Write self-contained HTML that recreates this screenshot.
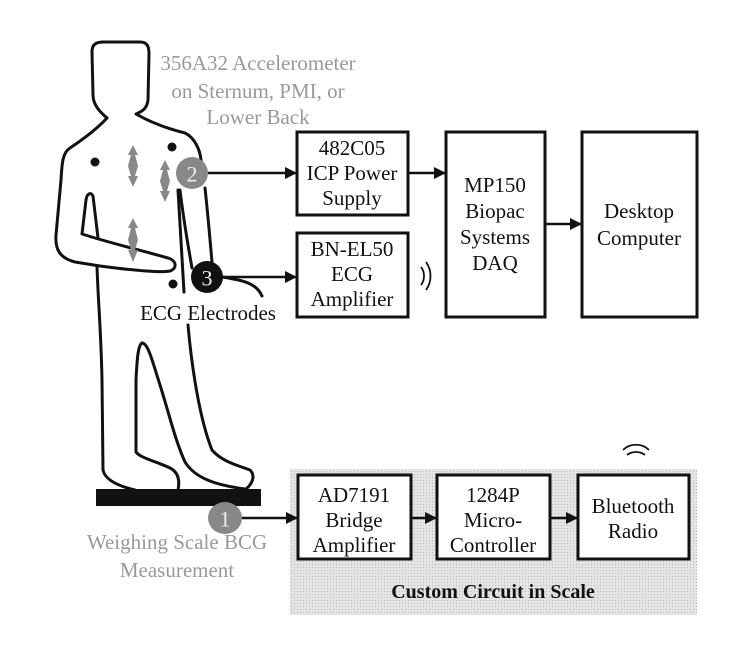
<!DOCTYPE html>
<html><head><meta charset="utf-8"><style>
html,body{margin:0;padding:0;background:#fff;}
svg{display:block;}
svg text{font-family:"Liberation Serif","Times New Roman","DejaVu Serif",serif;font-size:21px;text-anchor:middle;dominant-baseline:central;fill:#111;}
</style></head><body>
<svg width="747" height="652" viewBox="0 0 747 652" xmlns="http://www.w3.org/2000/svg" font-family="Liberation Serif, Times New Roman, DejaVu Serif, serif">
<defs>
<marker id="ah" markerWidth="12" markerHeight="12" refX="11" refY="6" orient="auto" markerUnits="userSpaceOnUse">
<path d="M0,0 L12,6 L0,12 z" fill="#111"/></marker>
<pattern id="dots" width="3" height="3" patternUnits="userSpaceOnUse"><rect width="3" height="3" fill="#e4e4e4"/><rect width="1" height="1" fill="#b8b8b8"/></pattern>
</defs>

<rect x="290" y="469" width="407" height="146" fill="url(#dots)"/>

<g fill="none" stroke="#111" stroke-width="3" stroke-linecap="round" stroke-linejoin="round">
<path d="M107,118 C100,112 93,105 93,95 L92,52 C92,44 96,42 104,42 L140,42 C147,42 149,46 149,54 L148,100 C147,110 140,112 136,114 C150,122 165,128 185,133 C195,138 200,150 201,160"/>
<path d="M107,118 C96,130 82,140 70,148 C62,153 62,165 61,180 L56,235 C55,250 60,258 75,262 L100,266 C130,270 160,273 170,271 C178,268 176,260 168,258 C140,250 110,243 82,234 L86,200 C87,193 91,192 93,196 L98,238"/>
<path d="M97,266 C98,300 101,330 102,380 L103,470 C105,480 118,486 135,490"/>
<path d="M178,490 C180,480 178,472 170,468 C158,462 140,458 136,452 L136,380 C137,360 138,345 142,343 C148,343 152,360 160,385 C168,410 175,440 185,462 C195,478 215,485 245,489"/>
<path d="M188,325 C192,370 200,420 212,450 C222,462 240,466 250,470 C256,476 252,484 246,489"/>
<path d="M201,160 L203,175"/>
<path d="M205,188 C208,215 210,240 212,262"/>
<path d="M180,190 C183,215 187,240 192,268"/>
<path d="M178,190 L184,292"/>
<path d="M222,277 C240,280 256,282 262,296"/>
</g>
<circle cx="95" cy="162" r="4.5" fill="#111"/>
<circle cx="172" cy="147" r="4.5" fill="#111"/>
<circle cx="173" cy="284" r="4.5" fill="#111"/>
<g fill="#888">
<path d="M133,145 L138,155 L135,155 L138,166 L135,176 L138,176 L133,187 L128,176 L131,176 L128,166 L131,155 L128,155 z"/>
<path d="M165,160 L170,170 L167,170 L170,181 L167,191 L170,191 L165,202 L160,191 L163,191 L160,181 L163,170 L160,170 z"/>
<path d="M133,218 L138,228 L135,228 L138,240 L135,250 L138,250 L133,262 L128,250 L131,250 L128,240 L131,228 L128,228 z"/>
</g>

<rect x="96" y="489" width="165" height="17" fill="#111"/>

<circle cx="192" cy="173" r="16" fill="#888"/>
<text x="192" y="174" style="fill:#eee;font-size:22px">2</text>
<circle cx="207" cy="277" r="16" fill="#111"/>
<text x="207" y="278" style="fill:#eee;font-size:22px">3</text>
<ellipse cx="225" cy="518" rx="17" ry="16" fill="#888"/>
<text x="225" y="519" style="fill:#eee;font-size:22px">1</text>

<text x="258" y="63" style="fill:#999">356A32 Accelerometer</text>
<text x="258" y="91" style="fill:#999">on Sternum, PMI, or</text>
<text x="258" y="117" style="fill:#999">Lower Back</text>
<text x="177" y="542" style="fill:#999">Weighing Scale BCG</text>
<text x="177" y="570" style="fill:#999">Measurement</text>
<text x="208" y="313">ECG Electrodes</text>

<g fill="#fff" stroke="#111" stroke-width="3">
<rect x="297" y="132" width="111" height="83"/>
<rect x="297" y="233" width="111" height="84"/>
<rect x="446" y="132" width="99" height="185"/>
<rect x="582" y="132" width="115" height="185"/>
<rect x="298" y="475" width="113" height="84"/>
<rect x="437" y="475" width="113" height="84"/>
<rect x="578" y="475" width="111" height="84"/>
</g>
<text x="352" y="148">482C05</text>
<text x="352" y="173">ICP Power</text>
<text x="352" y="198">Supply</text>
<text x="352" y="249">BN-EL50</text>
<text x="352" y="274">ECG</text>
<text x="352" y="299">Amplifier</text>
<text x="495" y="185">MP150</text>
<text x="495" y="211">Biopac</text>
<text x="495" y="237">Systems</text>
<text x="495" y="263">DAQ</text>
<text x="639" y="211">Desktop</text>
<text x="639" y="238">Computer</text>
<text x="354" y="495">AD7191</text>
<text x="354" y="520">Bridge</text>
<text x="354" y="545">Amplifier</text>
<text x="493" y="495">1284P</text>
<text x="493" y="520">Micro-</text>
<text x="493" y="545">Controller</text>
<text x="633" y="506">Bluetooth</text>
<text x="633" y="531">Radio</text>
<text x="493" y="592" style="font-weight:bold;font-size:20px">Custom Circuit in Scale</text>

<g stroke="#111" stroke-width="2.5" fill="none" marker-end="url(#ah)">
<line x1="208" y1="173" x2="296" y2="173"/>
<line x1="223" y1="277" x2="296" y2="277"/>
<line x1="408" y1="173" x2="445" y2="173"/>
<line x1="545" y1="224" x2="581" y2="224"/>
<line x1="242" y1="518" x2="297" y2="518"/>
<line x1="411" y1="518" x2="436" y2="518"/>
<line x1="550" y1="518" x2="577" y2="518"/>
</g>

<g stroke="#111" stroke-width="1.8" fill="none">
<path d="M421,267 C425,272 425,280 421,285"/>
<path d="M426,262 C432,270 432,282 426,290"/>
<path d="M627,455 C632,451 640,451 645,455"/>
<path d="M623,450 C630,443 642,443 649,450"/>
</g>
</svg>
</body></html>
